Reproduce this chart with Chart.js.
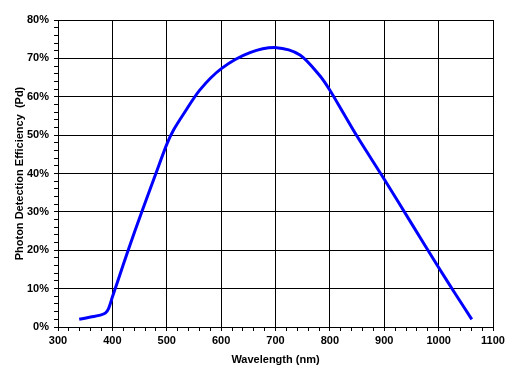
<!DOCTYPE html>
<html>
<head>
<meta charset="utf-8">
<script src="https://cdn.jsdelivr.net/npm/chart.js@4/dist/chart.umd.min.js"></script>
<style>
html,body{margin:0;padding:0;background:#fff;}
#c{display:block;}
</style>
</head>
<body>
<canvas id="c" width="523" height="379"></canvas>
<script>
const wavelengths = [339,360,378,387,393,400,410,430,453,480,500,512,530,561,601,653,702,745,782,800,825,850,900,950,1000,1030,1061];
const efficiency  = [2.0,2.6,3.1,3.6,4.8,7.8,12.0,20.4,29.6,40.0,47.6,51.2,55.3,61.8,67.4,71.5,72.8,70.9,65.4,61.7,55.7,49.7,38.5,27.0,15.5,8.8,2.0];
const xTickLabels = ['300','400','500','600','700','800','900','1000','1100'];
const yTickLabels = ['0%','10%','20%','30%','40%','50%','60%','70%','80%'];
const xTitle = 'Wavelength (nm)';
const yTitle = 'Photon Detection Efficiency  (Pd)';

const points = wavelengths.map((w,i)=>({x:w,y:efficiency[i]}));
const FONT = "'Liberation Sans', Arial, sans-serif";

new Chart(document.getElementById('c'), {
  type: 'line',
  data: { datasets: [{
    data: points,
    borderColor: '#0000ff',
    borderWidth: 3,
    pointRadius: 0,
    fill: false,
    tension: 0.3
  }]},
  options: {
    responsive: false,
    animation: false,
    devicePixelRatio: 1,
    layout: { padding: { top: 20, right: 30, left: 0, bottom: 0 } },
    plugins: { legend: { display: false }, tooltip: { enabled: false } },
    scales: {
      x: {
        type: 'linear', min: 300, max: 1100,
        ticks: {
          stepSize: 20, autoSkip: false, maxRotation: 0, padding: 3,
          color: '#000', font: { family: FONT, size: 11, weight: 'bold' },
          callback: v => (v % 100 === 0 ? xTickLabels[(v-300)/100] : '')
        },
        grid: {
          color: ctx => (ctx.tick && ctx.tick.value % 100 === 0 ? '#000' : 'rgba(0,0,0,0)'),
          tickColor: '#000', tickLength: 4, lineWidth: 1
        },
        border: { color: '#000', width: 1 },
        title: { display: true, text: xTitle, color: '#000', font: { family: FONT, size: 11, weight: 'bold' }, padding: { top: 0, bottom: 12 } },
        afterFit: s => { s.height = 52; }
      },
      y: {
        type: 'linear', min: 0, max: 80,
        ticks: {
          stepSize: 2, autoSkip: false, padding: 5,
          color: '#000', font: { family: FONT, size: 11, weight: 'bold' },
          callback: v => (v % 10 === 0 ? yTickLabels[v/10] : '')
        },
        grid: {
          color: ctx => (ctx.tick && ctx.tick.value % 10 === 0 ? '#000' : 'rgba(0,0,0,0)'),
          tickColor: '#000', tickLength: 4, lineWidth: 1
        },
        border: { color: '#000', width: 1 },
        title: { display: true, text: yTitle, color: '#000', font: { family: FONT, size: 11, weight: 'bold' }, padding: { top: 13, bottom: 0 } },
        afterFit: s => { s.width = 58; }
      }
    }
  }
});
</script>
</body>
</html>
